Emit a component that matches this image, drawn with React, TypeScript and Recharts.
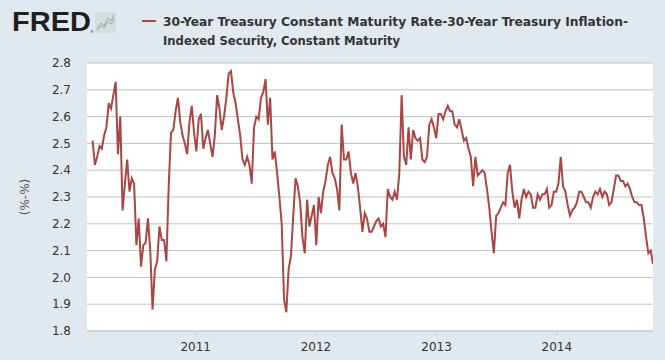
import { LineChart, Line, XAxis, YAxis, CartesianGrid } from 'recharts'

// weekly readings, first week 2010-02-22
const FIRST_WEEK = Date.UTC(2010, 1, 22)
const WEEK_MS = 7 * 24 * 3600 * 1000

const spread2010 = [
  2.51, 2.42, 2.45, 2.49, 2.48, 2.53, 2.56, 2.65, 2.63, 2.68,
  2.73, 2.46, 2.6, 2.25, 2.35, 2.44, 2.32, 2.37, 2.35, 2.12,
  2.22, 2.04, 2.12, 2.13, 2.22, 2.1, 1.88, 2.03, 2.06, 2.19,
  2.14, 2.14, 2.06, 2.34, 2.54, 2.55, 2.62, 2.67, 2.58, 2.53,
  2.5, 2.46, 2.58, 2.64, 2.54,
]
const spread2011 = [
  2.47, 2.59, 2.61, 2.48, 2.52, 2.55, 2.5, 2.45, 2.53, 2.68,
  2.63, 2.55, 2.6, 2.67, 2.76, 2.77, 2.69, 2.65, 2.59, 2.53,
  2.44, 2.42, 2.45, 2.42, 2.35, 2.56, 2.6, 2.59, 2.67, 2.69,
  2.74, 2.57, 2.67, 2.44, 2.47, 2.39, 2.3, 2.2, 1.92, 1.87,
  2.03, 2.08, 2.23, 2.37, 2.34, 2.28, 2.15, 2.09, 2.29, 2.19,
  2.23, 2.27,
]
const spread2012 = [
  2.12, 2.3, 2.24, 2.32, 2.36, 2.42, 2.45, 2.39, 2.37, 2.33,
  2.25, 2.57, 2.44, 2.44, 2.47, 2.39, 2.35, 2.39, 2.34, 2.26,
  2.17, 2.24, 2.22, 2.17, 2.17, 2.19, 2.21, 2.22, 2.19, 2.2,
  2.15, 2.33, 2.3, 2.29, 2.32, 2.29, 2.39, 2.68, 2.45, 2.42,
  2.56, 2.44, 2.55, 2.52, 2.51, 2.52, 2.44, 2.43, 2.45, 2.57,
  2.59, 2.56, 2.52,
]
const spread2013 = [
  2.61, 2.61, 2.59, 2.62, 2.64, 2.62, 2.62, 2.57, 2.56, 2.59,
  2.55, 2.51, 2.52, 2.48, 2.45, 2.34, 2.45, 2.38, 2.39, 2.4,
  2.39, 2.33, 2.26, 2.17, 2.09, 2.23, 2.24, 2.26, 2.28, 2.27,
  2.39, 2.42, 2.32, 2.26, 2.29, 2.22, 2.29, 2.33, 2.3, 2.32,
  2.31, 2.26, 2.26, 2.31, 2.29, 2.31, 2.31, 2.33, 2.26, 2.27,
  2.32, 2.32,
]
const spread2014 = [
  2.35, 2.45, 2.34, 2.32, 2.27, 2.23, 2.25, 2.26, 2.28, 2.32,
  2.32, 2.3, 2.28, 2.28, 2.26, 2.3, 2.32, 2.31, 2.33, 2.3,
  2.32, 2.31, 2.27, 2.28, 2.33, 2.38, 2.38, 2.36, 2.36, 2.34,
  2.35, 2.33, 2.3, 2.28, 2.28, 2.27, 2.27, 2.22, 2.15, 2.09,
  2.1, 2.05,
]

const YEAR_TICKS = [2011, 2012, 2013, 2014]
const VALUE_TICKS = [1.8, 1.9, 2.0, 2.1, 2.2, 2.3, 2.4, 2.5, 2.6, 2.7, 2.8]

const TITLE_1 = '30-Year Treasury Constant Maturity Rate-30-Year Treasury Inflation-'
const TITLE_2 = 'Indexed Security, Constant Maturity'
const UNITS = '(%-%)'

const LINE_COLOR = '#aa4643'
const BG = '#e1e9f0'
const TEXT = '#333333'
const FONT = '"DejaVu Sans", Verdana, sans-serif'

const weekly = [...spread2010, ...spread2011, ...spread2012, ...spread2013, ...spread2014]
const data = weekly.map((value, i) => ({ t: FIRST_WEEK + i * WEEK_MS, value }))

function Header() {
  return (
    <svg
      width={665}
      height={360}
      style={{ position: 'absolute', left: 0, top: 0, pointerEvents: 'none' }}
    >
      <text
        x={12}
        y={31}
        fontFamily='"Liberation Sans", Arial, sans-serif'
        fontWeight={900}
        fontSize={28}
        fill="#231f20"
        textLength={79}
        lengthAdjust="spacingAndGlyphs"
      >
        FRED
      </text>
      <text x={90} y={33} fontFamily={FONT} fontSize={4} fill="#231f20">
        ®
      </text>
      <rect x={95} y={12} width={21} height={21} rx={2} fill="#d7dce1" />
      <polyline
        points="97,29 101,23 104,26 108,18 111,21 114,15"
        fill="none"
        stroke="#7fa3c9"
        strokeWidth={1}
      />
      <polyline
        points="97,30 101,26 104,28 108,22 111,24 114,19"
        fill="none"
        stroke="#8dbf63"
        strokeWidth={1}
      />
      <line x1={142} y1={21} x2={156} y2={21} stroke={LINE_COLOR} strokeWidth={2} />
      <text
        x={163}
        y={26}
        fontFamily='"DejaVu Sans Condensed", "DejaVu Sans", sans-serif'
        fontWeight="bold"
        fontSize={13}
        fill={TEXT}
        textLength={465}
        lengthAdjust="spacingAndGlyphs"
      >
        {TITLE_1}
      </text>
      <text
        x={163}
        y={45}
        fontFamily='"DejaVu Sans Condensed", "DejaVu Sans", sans-serif'
        fontWeight="bold"
        fontSize={13}
        fill={TEXT}
        textLength={237}
        lengthAdjust="spacingAndGlyphs"
      >
        {TITLE_2}
      </text>
      <text
        x={0}
        y={0}
        transform="translate(29,197) rotate(-90)"
        textAnchor="middle"
        fontFamily={FONT}
        fontSize={12}
        fill="#555"
      >
        {UNITS}
      </text>
    </svg>
  )
}

export default function App() {
  const yearTicks = YEAR_TICKS.map((y) => Date.UTC(y, 0, 1))
  return (
    <div
      style={{
        position: 'absolute',
        left: 0,
        top: 0,
        width: 665,
        height: 360,
        background: BG,
        overflow: 'hidden',
      }}
    >
      <LineChart
        width={665}
        height={360}
        data={data}
        margin={{ top: 63, right: 12, bottom: 0, left: 0 }}
      >
        <CartesianGrid vertical={false} stroke="#c0c0c0" fill="#ffffff" />
        <XAxis
          dataKey="t"
          type="number"
          scale="linear"
          domain={[Date.UTC(2010, 1, 5), Date.UTC(2014, 9, 20)]}
          ticks={yearTicks}
          tickFormatter={(t: number) => String(new Date(t).getUTCFullYear())}
          height={29}
          stroke="#c0d0e0"
          tickSize={5}
          tickMargin={6}
          tick={{ fill: TEXT, fontSize: 12, fontFamily: FONT }}
          allowDataOverflow
        />
        <YAxis
          type="number"
          domain={[1.8, 2.8]}
          ticks={VALUE_TICKS}
          tickFormatter={(v: number) => v.toFixed(1)}
          width={87}
          axisLine={false}
          tickLine={false}
          tickSize={0}
          tickMargin={16}
          tick={{ fill: TEXT, fontSize: 12, fontFamily: FONT }}
          allowDataOverflow
        />
        <Line
          type="linear"
          dataKey="value"
          stroke={LINE_COLOR}
          strokeWidth={2}
          dot={false}
          isAnimationActive={false}
        />
      </LineChart>
      <Header />
    </div>
  )
}
